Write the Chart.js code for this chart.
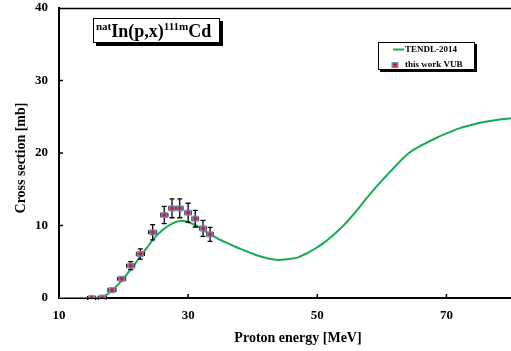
<!DOCTYPE html>
<html><head><meta charset="utf-8">
<script src="https://cdn.jsdelivr.net/npm/chart.js@4/dist/chart.umd.min.js"></script>
<style>html,body{margin:0;padding:0;background:#fff}#wrap{width:511px;height:351px;position:relative}</style>
</head><body><div id="wrap"><canvas id="c" width="511" height="351"></canvas></div>
<script>
// TENDL-2014 curve
const tendlE = [10,12,14,15,16,17,18,19,20,21,22,23,24,25,26,27,28,29,30,31,32,33,34,35,36,37,38,39,40,41,42,43,44,45,46,47,48,49,50,51,52,53,54,55,56,57,58,59,60,61,62,63,64,65,66,67,68,70,72,74,76,78,80];
const tendlXS = [0,0,0,0.01,0.05,0.25,0.85,1.7,2.7,3.8,5.0,6.2,7.4,8.5,9.35,10.0,10.45,10.65,10.45,10.1,9.6,9.0,8.5,8.0,7.6,7.2,6.8,6.45,6.1,5.8,5.55,5.35,5.25,5.3,5.4,5.6,6.0,6.45,7.0,7.6,8.3,9.1,9.95,10.9,11.95,13.05,14.15,15.2,16.2,17.15,18.1,19.0,19.85,20.5,21.0,21.45,21.9,22.7,23.4,23.9,24.3,24.6,24.8];
// this work VUB
const expE = [15.05,16.7,18.2,19.7,21.1,22.6,24.5,26.3,27.5,28.7,30.0,31.1,32.3,33.4];
const expXS = [0.0,0.05,1.1,2.66,4.46,6.07,9.06,11.45,12.37,12.37,11.77,10.94,9.6,8.78];
const expErr = [0.05,0.1,0.2,0.3,0.55,0.7,1.05,1.2,1.3,1.3,1.3,1.15,1.1,0.97];
const expEErr = [0.6,0.6,0.6,0.6,0.6,0.6,0.6,0.55,0.5,0.5,0.5,0.5,0.5,0.5];
const xTicks = [10,30,50,70];
const yTicks = [0,10,20,30,40];
const seriesNames = ['TENDL-2014','this work VUB'];
const xTitle = 'Proton energy [MeV]';
const yTitle = 'Cross section [mb]';

const green = '#17ab52';
const serif = '"Liberation Serif","Times New Roman",serif';

// marker: bluish square with red dot
const mk = document.createElement('canvas');
mk.width = 8; mk.height = 8;
{ const g = mk.getContext('2d');
  g.fillStyle = '#6f8cc4'; g.fillRect(0.5,1,7,6);
  g.fillStyle = '#e8101a'; g.beginPath(); g.arc(4,4,2,0,Math.PI*2); g.fill(); }

const errPlugin = {
  id: 'err',
  beforeDatasetDraw(chart, args) {
    if (args.index !== 1) return;
    const x = chart.scales.x, y = chart.scales.y, c = chart.ctx;
    c.save(); c.strokeStyle = '#000'; c.lineWidth = 1.3;
    for (let i = 0; i < expE.length; i++) {
      const px = x.getPixelForValue(expE[i]);
      const y1 = y.getPixelForValue(expXS[i] + expErr[i]);
      const y2 = y.getPixelForValue(Math.max(0, expXS[i] - expErr[i]));
      const x1 = x.getPixelForValue(expE[i] - expEErr[i]);
      const x2 = x.getPixelForValue(expE[i] + expEErr[i]);
      const py = y.getPixelForValue(expXS[i]);
      c.beginPath();
      c.moveTo(px, y1); c.lineTo(px, y2);
      c.moveTo(px-2.5, y1); c.lineTo(px+2.5, y1);
      c.moveTo(px-2.5, y2); c.lineTo(px+2.5, y2);
      c.moveTo(x1, py); c.lineTo(x2, py);
      c.moveTo(x1, py-2); c.lineTo(x1, py+2);
      c.moveTo(x2, py-2); c.lineTo(x2, py+2);
      c.stroke();
    }
    c.restore();
  }
};

const decoPlugin = {
  id: 'deco',
  afterDraw(chart) {
    const c = chart.ctx, a = chart.chartArea, x = chart.scales.x, y = chart.scales.y;
    c.save();
    // top border + inner ticks
    c.strokeStyle = '#000'; c.lineWidth = 1.5;
    c.beginPath(); c.moveTo(a.left, a.top + 0.5); c.lineTo(a.right, a.top + 0.5); c.stroke();
    c.beginPath();
    yTicks.slice(1, -1).forEach(v => { const p = y.getPixelForValue(v); c.moveTo(a.left, p); c.lineTo(a.left + 4, p); });
    xTicks.slice(1).forEach(v => { const p = x.getPixelForValue(v); c.moveTo(p, a.bottom); c.lineTo(p, a.bottom - 4); });
    c.stroke();

    // axis titles
    c.fillStyle = '#000';
    c.font = 'bold 14px ' + serif;
    c.textAlign = 'center'; c.textBaseline = 'middle';
    c.fillText(xTitle, 298, 338);
    c.save(); c.translate(21, 158); c.rotate(-Math.PI / 2); c.fillText(yTitle, 0, 0); c.restore();

    // title box
    c.fillStyle = '#000';
    c.fillRect(96, 21, 127, 25);
    c.fillStyle = '#fff';
    c.fillRect(93, 18, 127, 25);
    c.strokeStyle = '#000'; c.lineWidth = 1;
    c.strokeRect(93.5, 18.5, 126, 24);
    c.fillStyle = '#000';
    c.textBaseline = 'alphabetic'; c.textAlign = 'left';
    let tx = 96;
    const parts = [['nat',11,30],['In(p,x)',18,37],['111m',11,30],['Cd',18,37]];
    parts.forEach(([t, s, b]) => { c.font = 'bold ' + s + 'px ' + serif; c.fillText(t, tx, b); tx += c.measureText(t).width; });

    // legend box
    c.fillStyle = '#000';
    c.fillRect(380, 44, 97, 28);
    c.fillStyle = '#fff';
    c.fillRect(378, 42, 97, 28);
    c.strokeRect(378.5, 42.5, 96, 27);
    c.strokeStyle = green; c.lineWidth = 2;
    c.beginPath(); c.moveTo(393, 49.5); c.lineTo(404, 49.5); c.stroke();
    c.drawImage(mk, 391, 61);
    c.fillStyle = '#000'; c.font = 'bold 9px ' + serif; c.textBaseline = 'middle';
    c.fillText(seriesNames[0], 405, 50);
    c.fillText(seriesNames[1], 405, 65);
    c.restore();
  }
};

new Chart(document.getElementById('c'), {
  type: 'scatter',
  data: {
    datasets: [
      { label: seriesNames[0], data: tendlE.map((e,i)=>({x:e,y:tendlXS[i]})), showLine: true,
        borderColor: green, borderWidth: 2, pointRadius: 0, cubicInterpolationMode: 'monotone', order: 2 },
      { label: seriesNames[1], data: expE.map((e,i)=>({x:e,y:expXS[i]})), showLine: false,
        pointStyle: mk, pointRadius: 4, order: 1 }
    ]
  },
  plugins: [errPlugin, decoPlugin],
  options: {
    responsive: false, animation: false, devicePixelRatio: 1,
    layout: { autoPadding: false, padding: { top: 8, right: 0, left: 0, bottom: 0 } },
    plugins: { legend: { display: false }, tooltip: { enabled: false } },
    scales: {
      x: { type: 'linear', min: 10, max: 80,
        afterBuildTicks: s => { s.ticks = xTicks.map(v => ({value: v})); },
        afterFit: s => { s.height = 53; s.paddingLeft = 0; s.paddingRight = 0; },
        grid: { display: false, drawTicks: false }, border: { display: true, color: '#000', width: 2 },
        ticks: { color: '#000', font: { family: serif, size: 13, weight: 'bold' }, padding: 10, maxRotation: 0 },
        title: { display: false } },
      y: { type: 'linear', min: 0, max: 40,
        afterBuildTicks: s => { s.ticks = yTicks.map(v => ({value: v})); },
        afterFit: s => { s.width = 59; s.paddingTop = 0; s.paddingBottom = 0; },
        grid: { display: false, drawTicks: false }, border: { display: true, color: '#000', width: 2 },
        ticks: { color: '#000', font: { family: serif, size: 13, weight: 'bold' }, padding: 11 },
        title: { display: false } }
    }
  }
});
</script></body></html>
